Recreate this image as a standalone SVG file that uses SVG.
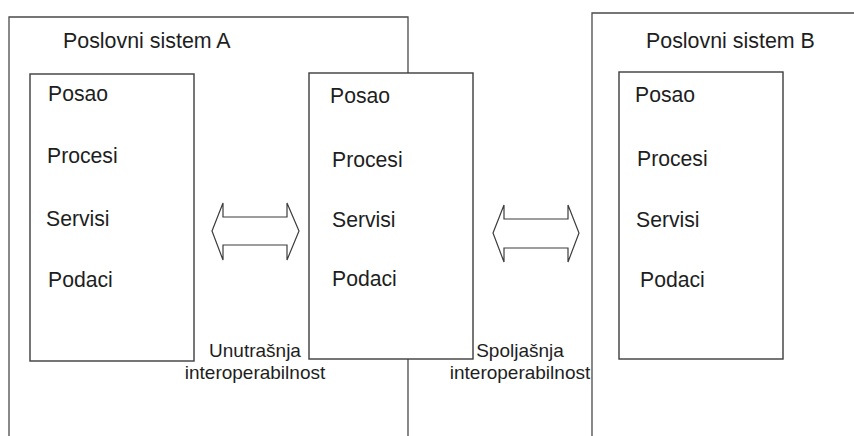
<svg xmlns="http://www.w3.org/2000/svg" width="854" height="436" viewBox="0 0 854 436">
  <style>
    .frame { fill: none; stroke: #4a4a4a; stroke-width: 1.3; }
    .box { fill: #ffffff; stroke: #3c3c3c; stroke-width: 1.4; }
    .arrow { fill: #ffffff; stroke: #3c3c3c; stroke-width: 1.2; stroke-linejoin: miter; }
    text { font-family: "Liberation Sans", Arial, sans-serif; fill: #1e1e1e; }
    .title { font-size: 21.4px; }
    .item { font-size: 21.2px; }
    .label { font-size: 19px; text-anchor: middle; }
  </style>

  <!-- Business system A (open at the bottom) -->
  <g id="system-a">
    <path class="frame" d="M9,436 V17 H408 V436"/>
    <text class="title" x="63" y="48">Poslovni sistem A</text>
  </g>

  <!-- Business system B (open at the bottom and right) -->
  <g id="system-b">
    <path class="frame" d="M592,436 V13 H854"/>
    <text class="title" x="646" y="48">Poslovni sistem B</text>
  </g>

  <!-- Layer stack inside system A -->
  <g id="stack-a">
    <rect class="box" x="30" y="74" width="164" height="287"/>
    <text class="item" x="48" y="101">Posao</text>
    <text class="item" x="47" y="163">Procesi</text>
    <text class="item" x="46" y="226">Servisi</text>
    <text class="item" x="48" y="287">Podaci</text>
  </g>

  <!-- Layer stack on the boundary of system A -->
  <g id="stack-middle">
    <rect class="box" x="309" y="73" width="164" height="286"/>
    <text class="item" x="330" y="103">Posao</text>
    <text class="item" x="332" y="167">Procesi</text>
    <text class="item" x="332" y="227">Servisi</text>
    <text class="item" x="332" y="286">Podaci</text>
  </g>

  <!-- Layer stack inside system B -->
  <g id="stack-b">
    <rect class="box" x="619" y="72" width="164" height="287"/>
    <text class="item" x="635" y="102">Posao</text>
    <text class="item" x="637" y="166">Procesi</text>
    <text class="item" x="636" y="227">Servisi</text>
    <text class="item" x="640" y="287">Podaci</text>
  </g>

  <!-- Double-headed block arrows -->
  <g id="connectors">
    <polygon class="arrow" points="212,231 223,203 223,217 287,217 287,203 299,231 287,260 287,245 223,245 223,260"/>
    <polygon class="arrow" points="493,233 504,205 504,219 568,219 568,205 579,233 568,262 568,248 504,248 504,262"/>
  </g>

  <g id="label-internal">
    <text class="label" x="255" y="357">Unutrašnja</text>
    <text class="label" x="255" y="379">interoperabilnost</text>
  </g>

  <g id="label-external">
    <text class="label" x="520" y="357">Spoljašnja</text>
    <text class="label" x="520" y="379">interoperabilnost</text>
  </g>
</svg>
